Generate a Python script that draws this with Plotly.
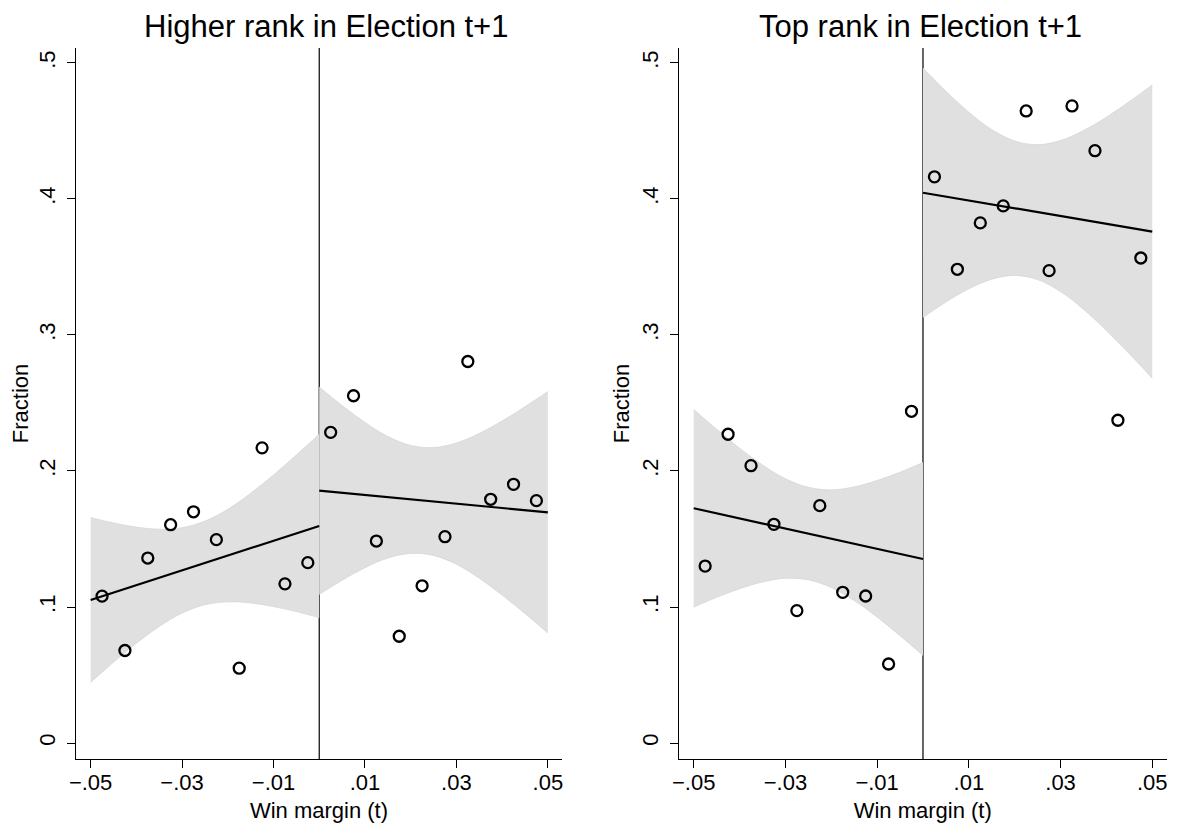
import plotly.graph_objects as go

# ---------------- data ----------------
bins_below = [-0.0475, -0.0425, -0.0375, -0.0325, -0.0275, -0.0225, -0.0175, -0.0125, -0.0075, -0.0025]
bins_above = [0.0025, 0.0075, 0.0125, 0.0175, 0.0225, 0.0275, 0.0325, 0.0375, 0.0425, 0.0475]

higher_below = [0.108, 0.068, 0.136, 0.1605, 0.170, 0.1495, 0.055, 0.217, 0.117, 0.1326]
higher_above = [0.2284, 0.2553, 0.1485, 0.0785, 0.1156, 0.1517, 0.2805, 0.1792, 0.1902, 0.1782]
top_below = [0.1301, 0.2270, 0.2039, 0.1608, 0.0973, 0.1745, 0.1108, 0.1081, 0.0581, 0.2439]
top_above = [0.4163, 0.3483, 0.3824, 0.3949, 0.4647, 0.3473, 0.4684, 0.4355, 0.2373, 0.3566]

# fitted lines (endpoints)
fit_x_below = [-0.05, 0.0]
fit_x_above = [0.0, 0.05]
higher_fit_below = [0.1051, 0.1596]
higher_fit_above = [0.1855, 0.1696]
top_fit_below = [0.1726, 0.1353]
top_fit_above = [0.4046, 0.3760]

# confidence bands
ci_x_below = [-0.05, -0.045, -0.04, -0.035, -0.03, -0.025, -0.02, -0.015, -0.01, -0.005, 0.0]
ci_x_above = [0.0, 0.005, 0.01, 0.015, 0.02, 0.025, 0.03, 0.035, 0.04, 0.045, 0.05]
higher_ci_below_up = [0.1657, 0.1618, 0.1587, 0.1572, 0.1583, 0.1631, 0.1718, 0.1836, 0.1971, 0.2118, 0.2270]
higher_ci_below_lo = [0.0445, 0.0594, 0.0733, 0.0857, 0.0955, 0.1017, 0.1038, 0.1030, 0.1003, 0.0966, 0.0922]
higher_ci_above_up = [0.2617, 0.2481, 0.2357, 0.2254, 0.2188, 0.2172, 0.2206, 0.2276, 0.2368, 0.2472, 0.2584]
higher_ci_above_lo = [0.1093, 0.1197, 0.1289, 0.1360, 0.1394, 0.1379, 0.1314, 0.1212, 0.1088, 0.0952, 0.0808]
top_ci_below_up = [0.2453, 0.2307, 0.2168, 0.2044, 0.1943, 0.1880, 0.1861, 0.1883, 0.1930, 0.1991, 0.2062]
top_ci_below_lo = [0.0999, 0.1071, 0.1134, 0.1184, 0.1211, 0.1200, 0.1143, 0.1047, 0.0926, 0.0789, 0.0644]
top_ci_above_up = [0.4963, 0.4792, 0.4638, 0.4510, 0.4426, 0.4399, 0.4429, 0.4503, 0.4601, 0.4716, 0.4838]
top_ci_above_lo = [0.3129, 0.3242, 0.3340, 0.3410, 0.3438, 0.3407, 0.3319, 0.3189, 0.3033, 0.2862, 0.2682]

panel_titles = ["Higher rank in Election t+1", "Top rank in Election t+1"]
x_tickvals = [-0.05, -0.03, -0.01, 0.01, 0.03, 0.05]
x_ticktext = ["\u2212.05", "\u2212.03", "\u2212.01", ".01", ".03", ".05"]
y_tickvals = [0, 0.1, 0.2, 0.3, 0.4, 0.5]
y_ticktext = ["0", ".1", ".2", ".3", ".4", ".5"]
x_title = "Win margin (t)"
y_title = "Fraction"

# ---------------- figure ----------------
FONT = "Liberation Sans, Arial, Helvetica, sans-serif"
BAND = "rgb(224,224,224)"
BAND_EDGE = "rgb(214,214,214)"

# the page body has an 8px margin; size the figure so it fits the 1179x825 window
OFF = 8
W, H = 1179 - OFF, 825 - OFF


def fx(px):
    return (px - OFF) / W


def fy(py):
    return 1 - (py - OFF) / H


fig = go.Figure()

panels = [
    (higher_below, higher_above, higher_fit_below, higher_fit_above,
     higher_ci_below_up, higher_ci_below_lo, higher_ci_above_up, higher_ci_above_lo),
    (top_below, top_above, top_fit_below, top_fit_above,
     top_ci_below_up, top_ci_below_lo, top_ci_above_up, top_ci_above_lo),
]

for i, (pb, pa, fb, fa, bu, bl, au, al) in enumerate(panels):
    xa = "x" if i == 0 else "x2"
    ya = "y" if i == 0 else "y2"
    for cx, up, lo in [(ci_x_below, bu, bl), (ci_x_above, au, al)]:
        fig.add_trace(go.Scatter(x=cx, y=lo, mode="lines", line=dict(color=BAND_EDGE, width=0.8, shape="spline"),
                                 xaxis=xa, yaxis=ya, showlegend=False, hoverinfo="skip"))
        fig.add_trace(go.Scatter(x=cx, y=up, mode="lines", line=dict(color=BAND_EDGE, width=0.8, shape="spline"),
                                 fill="tonexty", fillcolor=BAND,
                                 xaxis=xa, yaxis=ya, showlegend=False, hoverinfo="skip"))
    for fxs, fys in [(fit_x_below, fb), (fit_x_above, fa)]:
        fig.add_trace(go.Scatter(x=fxs, y=fys, mode="lines", line=dict(color="black", width=2.2),
                                 xaxis=xa, yaxis=ya, showlegend=False))
    fig.add_trace(go.Scatter(x=bins_below + bins_above, y=pb + pa, mode="markers",
                             marker=dict(symbol="circle-open", size=11, color="black", line=dict(width=2.3)),
                             xaxis=xa, yaxis=ya, showlegend=False))
    # cutoff line
    fig.add_shape(type="line", xref=xa, yref=f"{ya} domain", x0=0, x1=0, y0=0, y1=1,
                  line=dict(color="black", width=1.2), layer="below")

xdoms = [[fx(76), fx(562)], [fx(679), fx(1166.5)]]
ydom = [fy(759), fy(48)]

axis_common = dict(showline=True, linecolor="black", linewidth=1, ticks="outside", ticklen=8,
                   tickcolor="black", tickwidth=1, showgrid=False, zeroline=False,
                   tickfont=dict(size=22, color="black", family=FONT), automargin=False)

for i in range(2):
    xk = "xaxis" if i == 0 else "xaxis2"
    yk = "yaxis" if i == 0 else "yaxis2"
    fig.update_layout(**{
        xk: dict(axis_common, domain=xdoms[i], range=[-0.0532, 0.0531], tickvals=x_tickvals,
                 ticktext=x_ticktext, anchor="y" if i == 0 else "y2", ticklabelstandoff=-4,
                 title=dict(text=x_title, font=dict(size=22, color="black", family=FONT), standoff=8)),
        yk: dict(axis_common, domain=ydom, range=[-0.01176, 0.511], tickvals=y_tickvals,
                 ticktext=y_ticktext, tickangle=-90, anchor="x" if i == 0 else "x2", ticklabelstandoff=3,
                 title=dict(text=y_title, font=dict(size=22, color="black", family=FONT), standoff=2)),
    })

title_x = [fx(326), fx(920)]
for i, t in enumerate(panel_titles):
    fig.add_annotation(text=t, x=title_x[i], y=1, xref="paper", yref="paper",
                       xanchor="center", yanchor="top", showarrow=False, borderpad=0,
                       font=dict(size=31, color="black", family=FONT))

fig.update_layout(width=W, height=H, margin=dict(l=0, r=0, t=0, b=0),
                  paper_bgcolor="white", plot_bgcolor="white",
                  font=dict(family=FONT, color="black"))

fig.write_html("out.html")
